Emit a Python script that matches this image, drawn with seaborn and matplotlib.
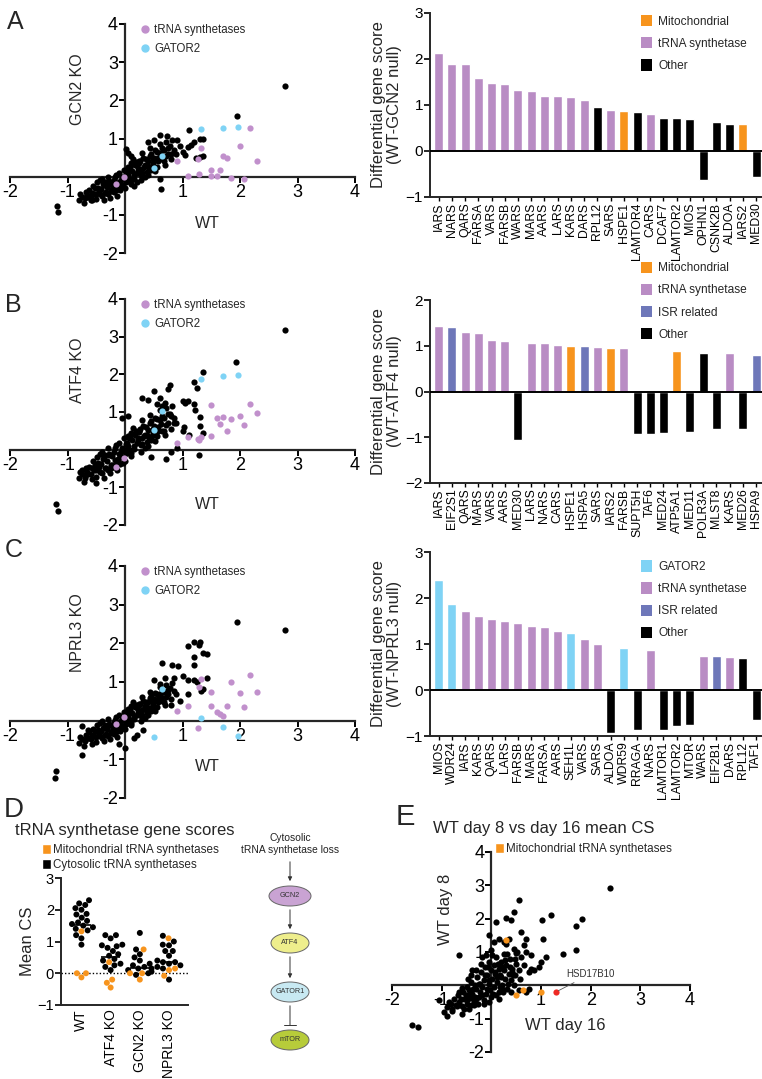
import numpy as np
import pandas as pd
import matplotlib
matplotlib.use("Agg")
import matplotlib.pyplot as plt
import seaborn as sns
from matplotlib.patches import Patch, Ellipse
from matplotlib.lines import Line2D

W, H = 762, 1079

PURPLE = "#b98cc4"
DOT_PURPLE = "#c190cc"
CYAN = "#7fd3f5"
ORANGE = "#f7941d"
ISR = "#6e77b9"
GREY_TXT = "#222222"

# ---------------- bar chart data ----------------
gcn2_genes = ["IARS", "NARS", "QARS", "FARSA", "VARS", "FARSB", "WARS", "MARS", "AARS",
              "LARS", "KARS", "DARS", "RPL12", "SARS", "HSPE1", "LAMTOR4", "CARS", "DCAF7",
              "LAMTOR2", "MIOS", "OPHN1", "CSNK2B", "ALDOA", "IARS2", "MED30"]
gcn2_scores = [2.13, 1.90, 1.89, 1.59, 1.48, 1.45, 1.33, 1.30, 1.20, 1.20, 1.18, 1.10, 0.95,
               0.90, 0.86, 0.84, 0.80, 0.72, 0.72, 0.70, -0.63, 0.64, 0.58, 0.58, -0.57]
gcn2_kinds = ["t"] * 12 + ["o", "t", "m", "o", "t", "o", "o", "o", "o", "o", "o", "m", "o"]

atf4_genes = ["IARS", "EIF2S1", "QARS", "MARS", "VARS", "AARS", "MED30", "LARS", "NARS",
              "CARS", "HSPE1", "HSPA5", "SARS", "IARS2", "FARSB", "SUPT5H", "TAF6", "MED24",
              "ATP5A1", "MED11", "POLR3A", "MLST8", "KARS", "MED26", "HSPA9"]
atf4_scores = [1.43, 1.42, 1.31, 1.28, 1.13, 1.10, -1.05, 1.05, 1.05, 1.01, 0.99, 0.99, 0.97,
               0.96, 0.95, -0.93, -0.93, -0.90, 0.89, -0.88, 0.84, -0.83, 0.84, -0.82, 0.79]
atf4_kinds = ["t", "i", "t", "t", "t", "t", "o", "t", "t", "t", "m", "i", "t", "m", "t",
              "o", "o", "o", "m", "o", "o", "o", "t", "o", "i"]

nprl3_genes = ["MIOS", "WDR24", "IARS", "KARS", "QARS", "LARS", "FARSB", "MARS", "FARSA",
               "AARS", "SEH1L", "VARS", "SARS", "ALDOA", "WDR59", "RRAGA", "NARS", "LAMTOR1",
               "LAMTOR2", "MTOR", "WARS", "EIF2B1", "DARS", "RPL12", "TAF1"]
nprl3_scores = [2.40, 1.86, 1.72, 1.60, 1.55, 1.49, 1.45, 1.40, 1.38, 1.28, 1.24, 1.10, 1.00,
                -0.93, 0.91, -0.87, 0.87, -0.86, -0.79, -0.75, 0.75, 0.73, 0.72, 0.70, -0.65]
nprl3_kinds = ["g", "g"] + ["t"] * 8 + ["g", "t", "t", "o", "g", "o", "t", "o", "o", "o",
                                       "t", "i", "t", "o", "o"]

kind_colors = {"m": ORANGE, "t": PURPLE, "i": ISR, "o": "black", "g": CYAN}
kind_names = {"m": "Mitochondrial", "t": "tRNA synthetase", "i": "ISR related",
              "o": "Other", "g": "GATOR2"}

# ---------------- scatter data (A-C share WT x values) ----------------
wt_cloud = [-0.80, -0.78, -0.72, -0.70, -0.68, -0.62, -0.60, -0.58, -0.55, -0.52,
            -0.50, -0.50, -0.48, -0.45, -0.42, -0.40, -0.40, -0.38, -0.36, -0.35,
            -0.32, -0.30, -0.30, -0.28, -0.26, -0.25, -0.22, -0.20, -0.20, -0.18,
            -0.16, -0.14, -0.12, -0.10, -0.10, -0.08, -0.06, -0.05, -0.02, 0.00,
            0.00, 0.02, 0.03, 0.05, 0.06, 0.08, 0.10, 0.10, 0.12, 0.14,
            0.15, 0.18, 0.20, 0.22, 0.25, 0.27, 0.28, 0.30, 0.30, 0.32,
            0.35, 0.38, 0.40, 0.40, 0.42, 0.44, 0.45, 0.48, 0.50, 0.55,
            0.55, 0.58, 0.60, 0.62, 0.65, 0.68, 0.70, 0.72, 0.75, 0.78,
            0.80, 0.82, 0.85, 0.88, -0.65, -0.44, -0.24, 0.04, 0.34, 0.52,
            -0.75, -0.66, -0.57, -0.47, -0.43, -0.37, -0.33, -0.27, -0.23, -0.17,
            -0.13, -0.07, -0.03, 0.01, 0.07, 0.11, 0.16, 0.19, 0.23, 0.26,
            0.29, 0.33, 0.36, 0.39, 0.43, 0.46, 0.49, 0.52, 0.57, 0.61,
            0.64, 0.67, 0.71, 0.74, -0.54, -0.34, -0.15, 0.09, 0.24, 0.47]
gcn2_cloud = [-0.60, -0.45, -0.68, -0.55, -0.40, -0.35, -0.50, -0.62, -0.25, -0.30,
              -0.45, -0.58, -0.15, -0.38, -0.32, -0.50, -0.05, -0.20, -0.60, -0.42,
              -0.28, -0.45, 0.00, -0.12, -0.55, -0.35, -0.20, -0.40, -0.10, -0.25,
              0.05, -0.50, -0.30, -0.15, 0.10, -0.35, -0.22, 0.00, 0.18, -0.05,
              -0.30, -0.15, 0.10, 0.25, 0.05, -0.05, 0.35, -0.20, 0.15, 0.45,
              -0.05, 0.30, 0.10, 0.22, 0.35, -0.10, 0.05, 0.20, 0.62, 0.50,
              0.30, 0.12, 0.40, 0.05, 0.22, 0.75, 0.60, 0.35, 0.50, 0.65,
              0.25, 0.40, 0.85, 0.55, 0.75, 0.40, 0.30, 0.90, 0.60, 0.80,
              0.45, 0.95, 0.70, 0.60, -0.52, -0.10, -0.38, -0.12, 0.00, 0.15,
              -0.52, -0.48, -0.42, -0.30, -0.45, -0.22, -0.40, -0.18, -0.32, -0.02,
              -0.20, -0.08, -0.25, 0.08, 0.20, -0.10, 0.05, 0.38, 0.15, 0.42,
              0.10, 0.25, 0.45, 0.30, 0.55, 0.18, 0.45, 0.70, 0.50, 0.62,
              0.45, 0.70, 0.55, 0.75, -0.45, -0.15, -0.35, 0.25, 0.40, 0.28]
atf4_cloud = [-0.75, -0.60, -0.85, -0.70, -0.50, -0.45, -0.65, -0.78, -0.30, -0.40,
              -0.55, -0.72, -0.20, -0.45, -0.38, -0.62, -0.05, -0.25, -0.75, -0.50,
              -0.30, -0.55, 0.05, -0.12, -0.62, -0.40, -0.18, -0.45, -0.05, -0.28,
              0.12, -0.55, -0.30, -0.12, 0.18, -0.38, -0.20, 0.05, 0.30, 0.00,
              -0.30, -0.10, 0.18, 0.35, 0.10, 0.00, 0.45, -0.18, 0.25, 0.58,
              0.02, 0.40, 0.18, 0.30, 0.48, -0.05, 0.12, 0.30, 0.78, 0.62,
              0.40, 0.20, 0.52, 0.10, 0.30, 0.92, 0.75, 0.45, 0.62, 0.82,
              0.35, 0.50, 1.05, 0.68, 0.90, 0.50, 0.38, 1.10, 0.72, 0.95,
              0.55, 1.15, 0.85, 0.70, -0.65, -0.12, -0.48, -0.10, 0.05, 0.22,
              -0.65, -0.60, -0.50, -0.35, -0.60, -0.20, -0.48, -0.15, -0.40, 0.05,
              -0.25, -0.05, -0.35, 0.15, 0.30, -0.10, 0.10, 0.50, 0.25, 0.55,
              0.15, 0.35, 0.60, 0.40, 0.70, 0.25, 0.55, 0.85, 0.60, 0.78,
              0.50, 0.85, 0.65, 0.95, -0.55, -0.15, -0.40, 0.35, 0.50, 0.35]
nprl3_cloud = [-0.58, -0.42, -0.65, -0.52, -0.38, -0.30, -0.48, -0.60, -0.22, -0.28,
               -0.42, -0.55, -0.12, -0.35, -0.28, -0.45, -0.02, -0.18, -0.52, -0.38,
               -0.22, -0.40, 0.05, -0.08, -0.48, -0.30, -0.15, -0.35, -0.05, -0.20,
               0.10, -0.42, -0.25, -0.10, 0.15, -0.28, -0.15, 0.05, 0.22, 0.00,
               -0.22, -0.08, 0.15, 0.30, 0.10, 0.02, 0.38, -0.12, 0.20, 0.48,
               0.05, 0.35, 0.15, 0.28, 0.40, 0.00, 0.12, 0.28, 0.62, 0.52,
               0.38, 0.20, 0.48, 0.15, 0.30, 0.75, 0.65, 0.42, 0.55, 0.70,
               0.35, 0.48, 0.88, 0.62, 0.80, 0.48, 0.40, 0.92, 0.68, 0.85,
               0.55, 0.98, 0.78, 0.70, -0.45, -0.05, -0.32, -0.05, 0.08, 0.25,
               -0.48, -0.45, -0.38, -0.25, -0.40, -0.18, -0.35, -0.12, -0.28, 0.02,
               -0.15, -0.02, -0.20, 0.12, 0.22, -0.05, 0.10, 0.40, 0.20, 0.42,
               0.15, 0.30, 0.48, 0.35, 0.58, 0.25, 0.50, 0.72, 0.55, 0.68,
               0.50, 0.75, 0.60, 0.80, -0.40, -0.10, -0.30, 0.28, 0.42, 0.35]

gcn2_extra = [(2.78, 2.38), (1.95, 1.60), (1.12, 1.22), (-1.18, -0.76), (-1.17, -0.93),
              (0.63, -0.32), (0.60, 1.10), (0.73, 1.07), (0.90, 0.95), (1.30, 1.00),
              (1.35, 1.00), (1.20, 0.92), (1.15, 0.82), (1.10, 0.78), (0.95, 0.80),
              (1.00, 0.65), (1.05, 0.58), (1.35, 0.55), (1.30, 0.52), (1.23, 0.50),
              (0.02, 0.72), (0.05, 0.62), (0.10, 0.55), (0.20, -0.15), (0.15, -0.25),
              (0.60, -0.05), (-0.60, -0.62), (0.40, 0.90), (0.50, 0.95), (0.80, 0.60)]
atf4_extra = [(2.78, 3.18), (1.93, 2.33), (1.35, 2.07), (1.20, 1.80), (1.25, 1.65),
              (0.78, 1.72), (0.75, 1.60), (0.50, 1.57), (0.30, 1.36), (0.40, 1.32),
              (0.60, 1.38), (0.55, 1.20), (1.00, 1.30), (1.05, 1.25), (1.10, 1.30),
              (1.20, 1.22), (1.22, 1.05), (1.30, 0.88), (1.30, 0.62), (1.35, 0.45),
              (1.02, 0.60), (1.00, 0.50), (1.12, 0.38), (0.80, 0.90), (0.85, 0.70),
              (0.90, 0.05), (0.80, -0.05), (1.28, -0.15), (0.72, -0.25), (0.45, -0.20),
              (-1.20, -1.45), (-1.17, -1.62), (-0.75, -0.55), (-0.70, -0.75), (-0.50, -0.88),
              (0.05, 0.90), (-0.05, 0.85), (0.65, 1.15), (0.70, 1.25)]
nprl3_extra = [(1.95, 2.56), (2.78, 2.35), (1.20, 2.03), (1.30, 2.03), (1.10, 1.92),
               (1.28, 1.95), (1.35, 1.75), (1.42, 1.72), (1.20, 1.65), (1.20, 1.45),
               (0.65, 1.50), (0.82, 1.45), (0.92, 1.42), (1.00, 1.15), (1.10, 1.05),
               (1.20, 1.05), (1.25, 1.00), (1.42, 1.10), (1.35, 0.82), (1.33, 0.77),
               (1.10, 0.68), (0.95, 0.52), (0.80, 0.40), (-1.20, -1.30), (-1.22, -1.48),
               (-0.75, -0.88), (-0.75, -0.15), (-0.65, -0.25), (0.15, -0.45), (0.20, -0.38),
               (0.32, -0.25), (0.00, -0.70), (-0.10, -0.60), (0.70, 1.10), (0.85, 1.10),
               (0.50, 1.05), (0.60, 0.95)]

wt_trna = [2.30, 2.17, 2.07, 2.00, 1.85, 1.77, 1.70, 1.65, 1.60, 1.50, 1.50, 1.33, 1.28,
           1.27, 1.10, 0.90, -0.02, -0.15]
gcn2_trna = [0.42, 1.27, -0.05, 0.80, -0.03, 0.48, 0.53, 0.18, 0.03, 0.18, 0.02, 0.75, 0.08,
             0.46, 0.03, 0.42, 0.00, -0.18]
atf4_trna = [0.97, 1.20, 0.65, 0.90, 0.82, 0.50, 0.87, 0.68, 0.85, 1.18, 0.37, 0.33, 0.25,
             0.27, 0.33, 0.18, -0.22, -0.45]
nprl3_trna = [0.75, 1.17, 0.35, 0.72, 1.00, 0.37, 0.12, 0.18, 0.22, 0.75, 0.37, 1.08, 0.88,
              -0.20, 0.38, 0.25, 0.10, -0.08]

wt_gator2 = [1.97, 1.70, 1.33, 0.65, 0.50]
gcn2_gator2 = [1.30, 1.27, 1.25, 0.53, 0.22]
atf4_gator2 = [1.97, 1.96, 1.88, 1.03, 0.52]
nprl3_gator2 = [-0.40, -0.17, 0.08, 0.83, -0.43]

# ---------------- panel D data ----------------
d_groups = ["WT", "ATF4 KO", "GCN2 KO", "NPRL3 KO"]
d_cyto = {
    "WT": [2.30, 2.20, 2.15, 2.05, 2.00, 1.87, 1.85, 1.75, 1.65, 1.60, 1.55, 1.50, 1.45,
           1.40, 1.35, 1.20, 1.10, 0.90],
    "ATF4 KO": [1.20, 1.20, 1.10, 0.90, 0.88, 0.85, 0.80, 0.70, 0.60, 0.55, 0.45, 0.40,
                0.30, 0.25, 0.20, 0.10],
    "GCN2 KO": [1.27, 0.75, 0.60, 0.50, 0.40, 0.30, 0.25, 0.20, 0.15, 0.15, 0.10, 0.05,
                0.00, -0.05],
    "NPRL3 KO": [1.18, 1.00, 0.90, 0.88, 0.70, 0.70, 0.55, 0.40, 0.35, 0.35, 0.30, 0.25,
                 0.20, 0.15, -0.20],
}
d_mito = {
    "WT": [1.32, -0.13, 0.00, 0.00],
    "ATF4 KO": [0.35, -0.20, -0.30, -0.45],
    "GCN2 KO": [0.75, 0.00, 0.00, -0.20],
    "NPRL3 KO": [1.10, 0.15, 0.10, -0.08],
}

pathway_nodes = ["GCN2", "ATF4", "GATOR1", "mTOR"]
pathway_fills = ["#c9a3d3", "#eeee8c", "#c8e9f2", "#b7cc3a"]

# ---------------- panel E data ----------------
day16_cloud = [-0.90, -0.85, -0.80, -0.75, -0.72, -0.68, -0.65, -0.60, -0.58, -0.55,
               -0.52, -0.50, -0.48, -0.45, -0.42, -0.40, -0.38, -0.35, -0.32, -0.30,
               -0.28, -0.25, -0.25, -0.22, -0.20, -0.18, -0.15, -0.15, -0.12, -0.10,
               -0.08, -0.05, -0.05, -0.02, 0.00, 0.00, 0.02, 0.05, 0.05, 0.08,
               0.10, 0.12, 0.15, 0.15, 0.18, 0.20, 0.22, 0.25, 0.25, 0.28,
               0.30, 0.32, 0.35, 0.38, 0.40, 0.42, 0.45, 0.48, 0.50, 0.55,
               -0.30, -0.20, -0.10, 0.00, 0.10, 0.20, 0.30, -0.40, -0.60, -0.15,
               0.60, 0.65, 0.70, 0.45, 0.35, 0.25, 0.15, -0.05, -0.35, -0.45,
               -0.82, -0.70, -0.62, -0.55, -0.50, -0.44, -0.40, -0.36, -0.33, -0.27,
               -0.23, -0.19, -0.13, -0.09, -0.04, 0.03, 0.07, 0.12, 0.17, 0.21,
               0.24, 0.27, 0.33, 0.37, 0.43, 0.47, -0.47, -0.38, -0.30, -0.18,
               -0.07, 0.02, 0.13, 0.22, 0.32, 0.41, -0.65, -0.95, 0.52, 0.57]
day8_cloud = [-0.65, -0.50, -0.72, -0.40, -0.58, -0.30, -0.50, -0.62, -0.20, -0.42,
              -0.30, -0.05, -0.55, -0.15, -0.38, 0.10, -0.25, -0.48, 0.00, -0.10,
              0.25, -0.35, 0.05, -0.20, 0.40, -0.05, 0.15, -0.45, 0.55, -0.25,
              0.30, 0.05, 0.70, -0.15, 0.45, -0.35, 0.20, 0.60, -0.05, 0.35,
              0.85, 0.10, 0.50, -0.20, 0.30, 0.70, 0.00, 0.45, 0.95, 0.20,
              0.60, -0.10, 0.35, 0.80, 0.15, 0.50, 1.10, 0.30, 0.65, 0.45,
              0.45, 0.65, 0.90, 1.05, -0.30, 0.25, 1.25, 0.30, -0.08, -0.55,
              0.85, 0.60, 1.00, 0.00, 1.40, 1.30, -0.40, -0.50, -0.60, -0.70,
              -0.55, -0.62, -0.40, -0.70, -0.45, -0.30, -0.60, -0.10, -0.35, -0.55,
              0.05, -0.30, 0.30, -0.10, 0.15, -0.25, 0.40, 0.25, -0.05, 0.55,
              -0.20, 0.75, 0.05, 0.55, 0.30, 0.80, 0.20, 0.45, -0.40, 0.85,
              0.55, 0.90, 0.65, -0.10, 0.95, 0.40, -0.20, -0.80, 1.00, 0.20]
e_extra = [(2.38, 2.93), (1.82, 2.00), (1.70, 1.77), (1.20, 2.12), (1.02, 1.95),
           (0.55, 2.55), (0.45, 2.20), (0.10, 1.90), (0.30, 2.02), (0.40, 1.95),
           (-0.05, 1.50), (0.70, 1.38), (1.05, 1.40), (1.70, 1.05), (1.45, 0.95),
           (1.10, 0.85), (1.00, 0.70), (0.85, 0.45), (0.80, 0.50), (0.75, 0.40),
           (0.80, 0.90), (0.50, 0.97), (0.65, 1.20), (-0.65, 0.90), (-1.05, -0.45),
           (-1.60, -1.20), (-1.48, -1.25), (-0.90, -0.92), (-0.80, -0.78), (-0.60, -0.85),
           (0.40, -0.20), (0.55, -0.15), (0.70, -0.20), (0.15, 1.40), (0.05, 1.30),
           (0.60, 1.60), (0.95, 0.55), (0.75, -0.10)]
e_mito = [(0.30, 1.36), (0.50, -0.28), (0.63, -0.15), (1.00, -0.20)]
e_hsd = (1.30, -0.20)

# ---------------- style ----------------
sns.set_theme(style="white")
plt.rcParams["font.family"] = ["Liberation Sans", "DejaVu Sans"]
plt.rcParams["axes.linewidth"] = 1.4
plt.rcParams["xtick.color"] = "black"
plt.rcParams["ytick.color"] = "black"

fig = plt.figure(figsize=(W / 100, H / 100), dpi=100)


def px_rect(x0, y0, x1, y1):
    return [x0 / W, 1 - y1 / H, (x1 - x0) / W, (y1 - y0) / H]


def draw_bars(ax, genes, scores, kinds, ylim, ylabel, legend_kinds, leg_y):
    df = pd.DataFrame({"gene": genes, "score": scores, "kind": kinds})
    pal = {k: kind_colors[k] for k in set(kinds)}
    sns.barplot(data=df, x="gene", y="score", hue="kind", palette=pal, order=genes,
                dodge=False, width=0.68, saturation=1, errorbar=None, legend=False, ax=ax)
    ax.axhline(0, color="black", lw=1.4, zorder=3)
    ax.set_xlim(-0.65, 24.45)
    ax.set_ylim(*ylim)
    ax.set_yticks(range(ylim[0], ylim[1] + 1))
    ax.tick_params(axis="y", labelsize=11, length=4, width=1.2, direction="out", left=True, pad=1)
    ax.tick_params(axis="x", labelsize=8.8, length=3, width=1, direction="out", bottom=True,
                   rotation=90, pad=1)
    ax.set_xlabel("")
    ax.set_ylabel(ylabel, fontsize=12, linespacing=1.05, labelpad=3)
    sns.despine(ax=ax)
    handles = [Patch(facecolor=kind_colors[k], edgecolor="none", label=kind_names[k])
               for k in legend_kinds]
    ax.legend(handles=handles, loc="upper left", bbox_to_anchor=(0.636, leg_y), frameon=False,
              fontsize=8.6, handlelength=0.95, handleheight=1.1, handletextpad=0.5,
              labelspacing=0.78, borderpad=0, borderaxespad=0)


def cross_axes(ax, ticksize):
    ax.set_xlim(-2, 4)
    ax.set_ylim(-2, 4)
    ax.spines["left"].set_position(("data", 0))
    ax.spines["bottom"].set_position(("data", 0))
    ax.spines["top"].set_visible(False)
    ax.spines["right"].set_visible(False)
    for s in ("left", "bottom"):
        ax.spines[s].set_linewidth(1.6)
    ticks = [-2, -1, 0, 1, 2, 3, 4]
    labels = ["-2", "-1", "", "1", "2", "3", "4"]
    ax.set_xticks(ticks, labels)
    ax.set_yticks(ticks, labels)
    ax.tick_params(labelsize=ticksize, length=4, width=1.4, direction="out",
                   left=True, bottom=True, pad=1)
    ax.set_xlabel("")
    ax.set_ylabel("")


def draw_scatter(ax, cloud_y, extra, trna_y, gator_y, ylab, ylab_y, wt_y):
    kw = dict(s=20, linewidth=0, ax=ax, zorder=3, legend=False)
    ex = np.array(extra)
    sns.scatterplot(x=wt_cloud, y=cloud_y, color="black", **kw)
    sns.scatterplot(x=ex[:, 0], y=ex[:, 1], color="black", **kw)
    sns.scatterplot(x=wt_trna, y=trna_y, color=DOT_PURPLE, **kw)
    sns.scatterplot(x=wt_gator2, y=gator_y, color=CYAN, **kw)
    cross_axes(ax, 13)
    ax.text(-0.82, ylab_y, ylab, rotation=90, ha="center", va="center", fontsize=11.5)
    ax.text(1.43, wt_y, "WT", ha="center", va="center", fontsize=11.5)
    handles = [Line2D([], [], marker="o", ls="", color=DOT_PURPLE, markersize=5,
                      label="tRNA synthetases"),
               Line2D([], [], marker="o", ls="", color=CYAN, markersize=5, label="GATOR2")]
    ax.legend(handles=handles, loc="upper left", bbox_to_anchor=(0.382, 1.0), frameon=False,
              fontsize=8.3, handlelength=0.6, handletextpad=0.5, labelspacing=0.6,
              borderpad=0, borderaxespad=0)


# ---------------- panels A-C ----------------
axa = fig.add_axes(px_rect(10, 24, 355, 253))
draw_scatter(axa, gcn2_cloud, gcn2_extra, gcn2_trna, gcn2_gator2, "GCN2 KO", 2.28, -1.23)
axb = fig.add_axes(px_rect(10, 299, 355, 525))
draw_scatter(axb, atf4_cloud, atf4_extra, atf4_trna, atf4_gator2, "ATF4 KO", 2.12, -1.46)
axc = fig.add_axes(px_rect(10, 566, 355, 798))
draw_scatter(axc, nprl3_cloud, nprl3_extra, nprl3_trna, nprl3_gator2, "NPRL3 KO", 2.27, -1.19)

axa2 = fig.add_axes(px_rect(430, 13, 762, 197))
draw_bars(axa2, gcn2_genes, gcn2_scores, gcn2_kinds, (-1, 3),
          "Differential gene score\n(WT-GCN2 null)", ["m", "t", "o"], 0.99)
axb2 = fig.add_axes(px_rect(430, 300, 762, 483))
draw_bars(axb2, atf4_genes, atf4_scores, atf4_kinds, (-2, 2),
          "Differential gene score\n(WT-ATF4 null)", ["m", "t", "i", "o"], 1.21)
axc2 = fig.add_axes(px_rect(430, 552, 762, 736))
draw_bars(axc2, nprl3_genes, nprl3_scores, nprl3_kinds, (-1, 3),
          "Differential gene score\n(WT-NPRL3 null)", ["g", "t", "i", "o"], 0.955)

# ---------------- panel D ----------------
rows = []
for g in d_groups:
    rows += [(g, v, "Cytosolic") for v in d_cyto[g]]
    rows += [(g, v, "Mitochondrial") for v in d_mito[g]]
df_d = pd.DataFrame(rows, columns=["group", "value", "kind"])

axd = fig.add_axes(px_rect(61, 878, 188, 1005))
sns.swarmplot(data=df_d, x="group", y="value", hue="kind", order=d_groups,
              hue_order=["Cytosolic", "Mitochondrial"],
              palette={"Cytosolic": "black", "Mitochondrial": ORANGE},
              size=4.3, linewidth=0, legend=False, ax=axd, zorder=3)
for i, g in enumerate(d_groups):
    m = df_d.loc[df_d.group == g, "value"].median()
    axd.hlines(m, i - 0.32, i + 0.32, color="black", lw=1.2, zorder=4)
axd.axhline(0, ls=(0, (1, 1.5)), color="black", lw=1)
axd.set_xlim(-0.7, 3.65)
axd.set_ylim(-1, 3)
axd.set_yticks([-1, 0, 1, 2, 3])
axd.tick_params(axis="y", labelsize=10.5, length=4, width=1.2, left=True, pad=1)
axd.tick_params(axis="x", labelsize=10, rotation=90, length=0, pad=3)
axd.set_xlabel("")
axd.set_ylabel("Mean CS", fontsize=12, labelpad=2)
sns.despine(ax=axd)
axd.legend(handles=[Patch(facecolor=ORANGE, label="Mitochondrial tRNA synthetases"),
                    Patch(facecolor="black", label="Cytosolic tRNA synthetases")],
           loc="upper left", bbox_to_anchor=(-0.15, 1.27), frameon=False, fontsize=8.4,
           handlelength=0.75, handleheight=0.9, handletextpad=0.2, labelspacing=0.3,
           borderpad=0, borderaxespad=0)
fig.text(15 / W, 1 - 830 / H, "tRNA synthetase gene scores", fontsize=12, va="center")

# pathway diagram
axp = fig.add_axes(px_rect(230, 828, 350, 1065))
axp.set_xlim(230, 350)
axp.set_ylim(1065, 828)
axp.axis("off")
cx = 290
axp.text(cx, 844, "Cytosolic\ntRNA synthetase loss", ha="center", va="center",
         fontsize=7.4, linespacing=1.3, color=GREY_TXT)
node_y = [896, 943, 992, 1040]
node_w = [42, 38, 38, 38]
for name, fill, ny, nw in zip(pathway_nodes, pathway_fills, node_y, node_w):
    axp.add_patch(Ellipse((cx, ny), nw, 20, facecolor=fill, edgecolor="#666666", lw=0.7))
    axp.text(cx, ny, name, ha="center", va="center", fontsize=5.2, color="#333333")
arrow_kw = dict(arrowstyle="-|>", color="#333333", lw=0.7, mutation_scale=6)
axp.annotate("", xy=(cx, 884), xytext=(cx, 859), arrowprops=arrow_kw)
for y0, y1 in [(node_y[0], node_y[1]), (node_y[1], node_y[2])]:
    axp.annotate("", xy=(cx, y1 - 11), xytext=(cx, y0 + 11), arrowprops=arrow_kw)
axp.annotate("", xy=(cx, node_y[3] - 12), xytext=(cx, node_y[2] + 11),
             arrowprops=dict(arrowstyle="-[, widthB=0.35, lengthB=0", color="#333333", lw=0.7))

# ---------------- panel E ----------------
axe = fig.add_axes(px_rect(392, 852, 690, 1052))
ee = np.array(e_extra)
em = np.array(e_mito)
kw = dict(s=20, linewidth=0, ax=axe, zorder=3, legend=False)
sns.scatterplot(x=day16_cloud, y=day8_cloud, color="black", **kw)
sns.scatterplot(x=ee[:, 0], y=ee[:, 1], color="black", **kw)
sns.scatterplot(x=em[:, 0], y=em[:, 1], color=ORANGE, **kw)
sns.scatterplot(x=[e_hsd[0]], y=[e_hsd[1]], color="#ee2a24", **kw)
cross_axes(axe, 13)
axe.annotate("HSD17B10", xy=e_hsd, xytext=(1.5, 0.33), fontsize=7, color="#333333",
             ha="left", va="center",
             arrowprops=dict(arrowstyle="-", color="#555555", lw=0.6, shrinkA=0, shrinkB=2))
axe.text(-0.93, 2.28, "WT day 8", rotation=90, ha="center", va="center", fontsize=12)
axe.text(1.48, -1.2, "WT day 16", ha="center", va="center", fontsize=12)
axe.legend(handles=[Patch(facecolor=ORANGE, label="Mitochondrial tRNA synthetases")],
           loc="upper left", bbox_to_anchor=(0.345, 1.045), frameon=False, fontsize=8.4,
           handlelength=0.75, handleheight=0.9, handletextpad=0.25, borderpad=0,
           borderaxespad=0)
fig.text(433 / W, 1 - 828 / H, "WT day 8 vs day 16 mean CS", fontsize=12, va="center")

# ---------------- panel letters ----------------
for letter, x, y, fs in [("A", 7, 10, 18), ("B", 5, 293, 18), ("C", 5, 538, 18),
                         ("D", 4, 797, 20), ("E", 396, 803, 21)]:
    fig.text(x / W, 1 - y / H, letter, fontsize=fs, va="top", ha="left")

fig.savefig("out.png", dpi=100)
